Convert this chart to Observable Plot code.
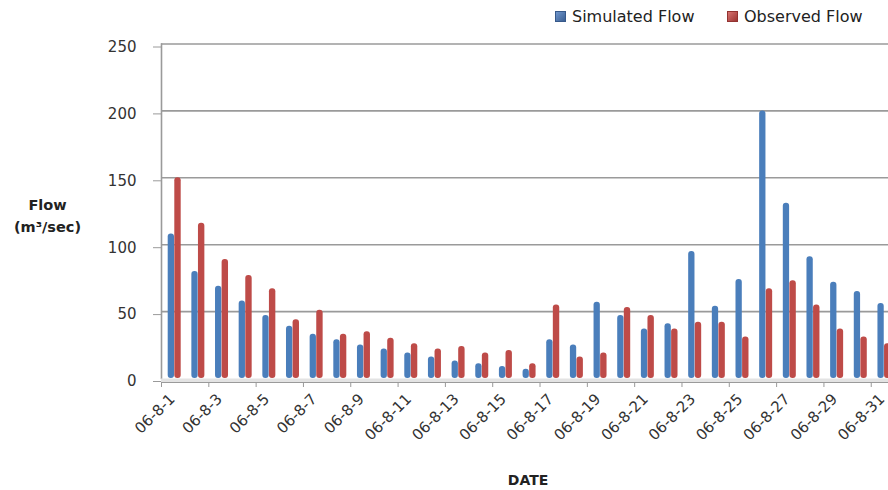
<!DOCTYPE html>
<html><head><meta charset="utf-8">
<script src="https://cdn.jsdelivr.net/npm/d3@7"></script>
<script src="https://cdn.jsdelivr.net/npm/@observablehq/plot@0.6"></script>
<style>
html,body{margin:0;padding:0;background:#fff;overflow:hidden;}
#wrap{position:relative;width:888px;height:490px;overflow:hidden;}
.legend{position:absolute;top:7px;left:555px;font:16px "DejaVu Sans",sans-serif;color:#222;white-space:nowrap;}
.legend span.item{position:absolute;top:0;display:flex;align-items:center;}
.legend i{display:inline-block;width:9px;height:9px;margin-right:6px;}
</style>
</head><body>
<div id="wrap">
  <div class="legend">
    <span class="item" style="left:0px"><i style="background:linear-gradient(135deg,#6f96cc,#3b5f93);border:1px solid #37598a"></i>Simulated Flow</span>
    <span class="item" style="left:172px"><i style="background:linear-gradient(135deg,#d77370,#9c3634);border:1px solid #933331"></i>Observed Flow</span>
  </div>
</div>
<script>
const dates = ["06-8-1","06-8-2","06-8-3","06-8-4","06-8-5","06-8-6","06-8-7","06-8-8","06-8-9","06-8-10",
  "06-8-11","06-8-12","06-8-13","06-8-14","06-8-15","06-8-16","06-8-17","06-8-18","06-8-19","06-8-20",
  "06-8-21","06-8-22","06-8-23","06-8-24","06-8-25","06-8-26","06-8-27","06-8-28","06-8-29","06-8-30","06-8-31"];
const simulated = [108,80,69,58,47,39,33,29,25,22,19,16,13,11,9,7,29,25,57,47,37,41,95,54,74,200,131,91,72,65,56];
const observed  = [150,116,89,77,67,44,51,33,35,30,26,22,24,19,21,11,55,16,19,53,47,37,42,42,31,67,73,55,37,31,26];
const yTicks = [0,50,100,150,200,250];
const labelDates = dates.filter((d,i)=>i%2===0);

const simData = dates.map((d,i)=>({date:d, value:simulated[i]}));
const obsData = dates.map((d,i)=>({date:d, value:observed[i]}));

const bw = (894.4-161)/31;
const font = "DejaVu Sans, sans-serif";

const chart = Plot.plot({
  width: 888,
  height: 490,
  marginLeft: 161,
  marginRight: 0,
  marginTop: 43.5,
  marginBottom: 112,
  style: {fontFamily: font, fontSize: "15px", color: "#333", background: "transparent"},
  x: {type: "band", domain: dates, range: [161, 894.4], padding: 0, round: false, label: null},
  y: {domain: [0, 250], range: [378, 43.5], label: null},
  marks: [
    Plot.gridY(yTicks.filter(t=>t>0), {stroke: "#9a9a9a", strokeOpacity: 1, strokeWidth: 1.6}),
    Plot.frame({anchor: "left", stroke: "#9a9a9a", strokeWidth: 1.6}),
    Plot.barY(simData, {x: "date", y: "value", fill: "#4a7ebb", insetLeft: 6.7, insetRight: bw-13, rx: 3}),
    Plot.barY(obsData, {x: "date", y: "value", fill: "#be4b48", insetLeft: 13.3, insetRight: bw-19.7, rx: 3}),
    Plot.ruleY([0], {stroke: "#e3e3e3", strokeWidth: 4, dy: 2}),
    Plot.ruleY([0], {stroke: "#9a9a9a", strokeWidth: 1.2, dy: 4}),
    Plot.axisY({ticks: yTicks, tickSize: 8, tickPadding: 17, dy: 3, stroke: "#9a9a9a", fill: "#333", fontSize: 15, label: null}),
    Plot.axisX({ticks: labelDates, tickSize: 5, dx: -bw/2, dy: 4, tickFormat: () => "", stroke: "#9a9a9a", label: null}),
    Plot.axisX({ticks: labelDates, tickSize: 0, tickPadding: 18, tickRotate: -45, textAnchor: "end", lineAnchor: "middle", dx: -1, fill: "#333", fontSize: 15, label: null}),
    Plot.text(["Flow\n(m³/sec)"], {frameAnchor: "left", dx: -114, dy: 3, textAnchor: "middle", lineHeight: 1.5, fontWeight: "bold", fontSize: 14.5, fill: "#222"}),
    Plot.text(["DATE"], {frameAnchor: "bottom", dx: 3, dy: 106, textAnchor: "middle", fontWeight: "bold", fontSize: 14, fill: "#222"})
  ]
});
document.getElementById("wrap").prepend(chart);
</script>
</body></html>
